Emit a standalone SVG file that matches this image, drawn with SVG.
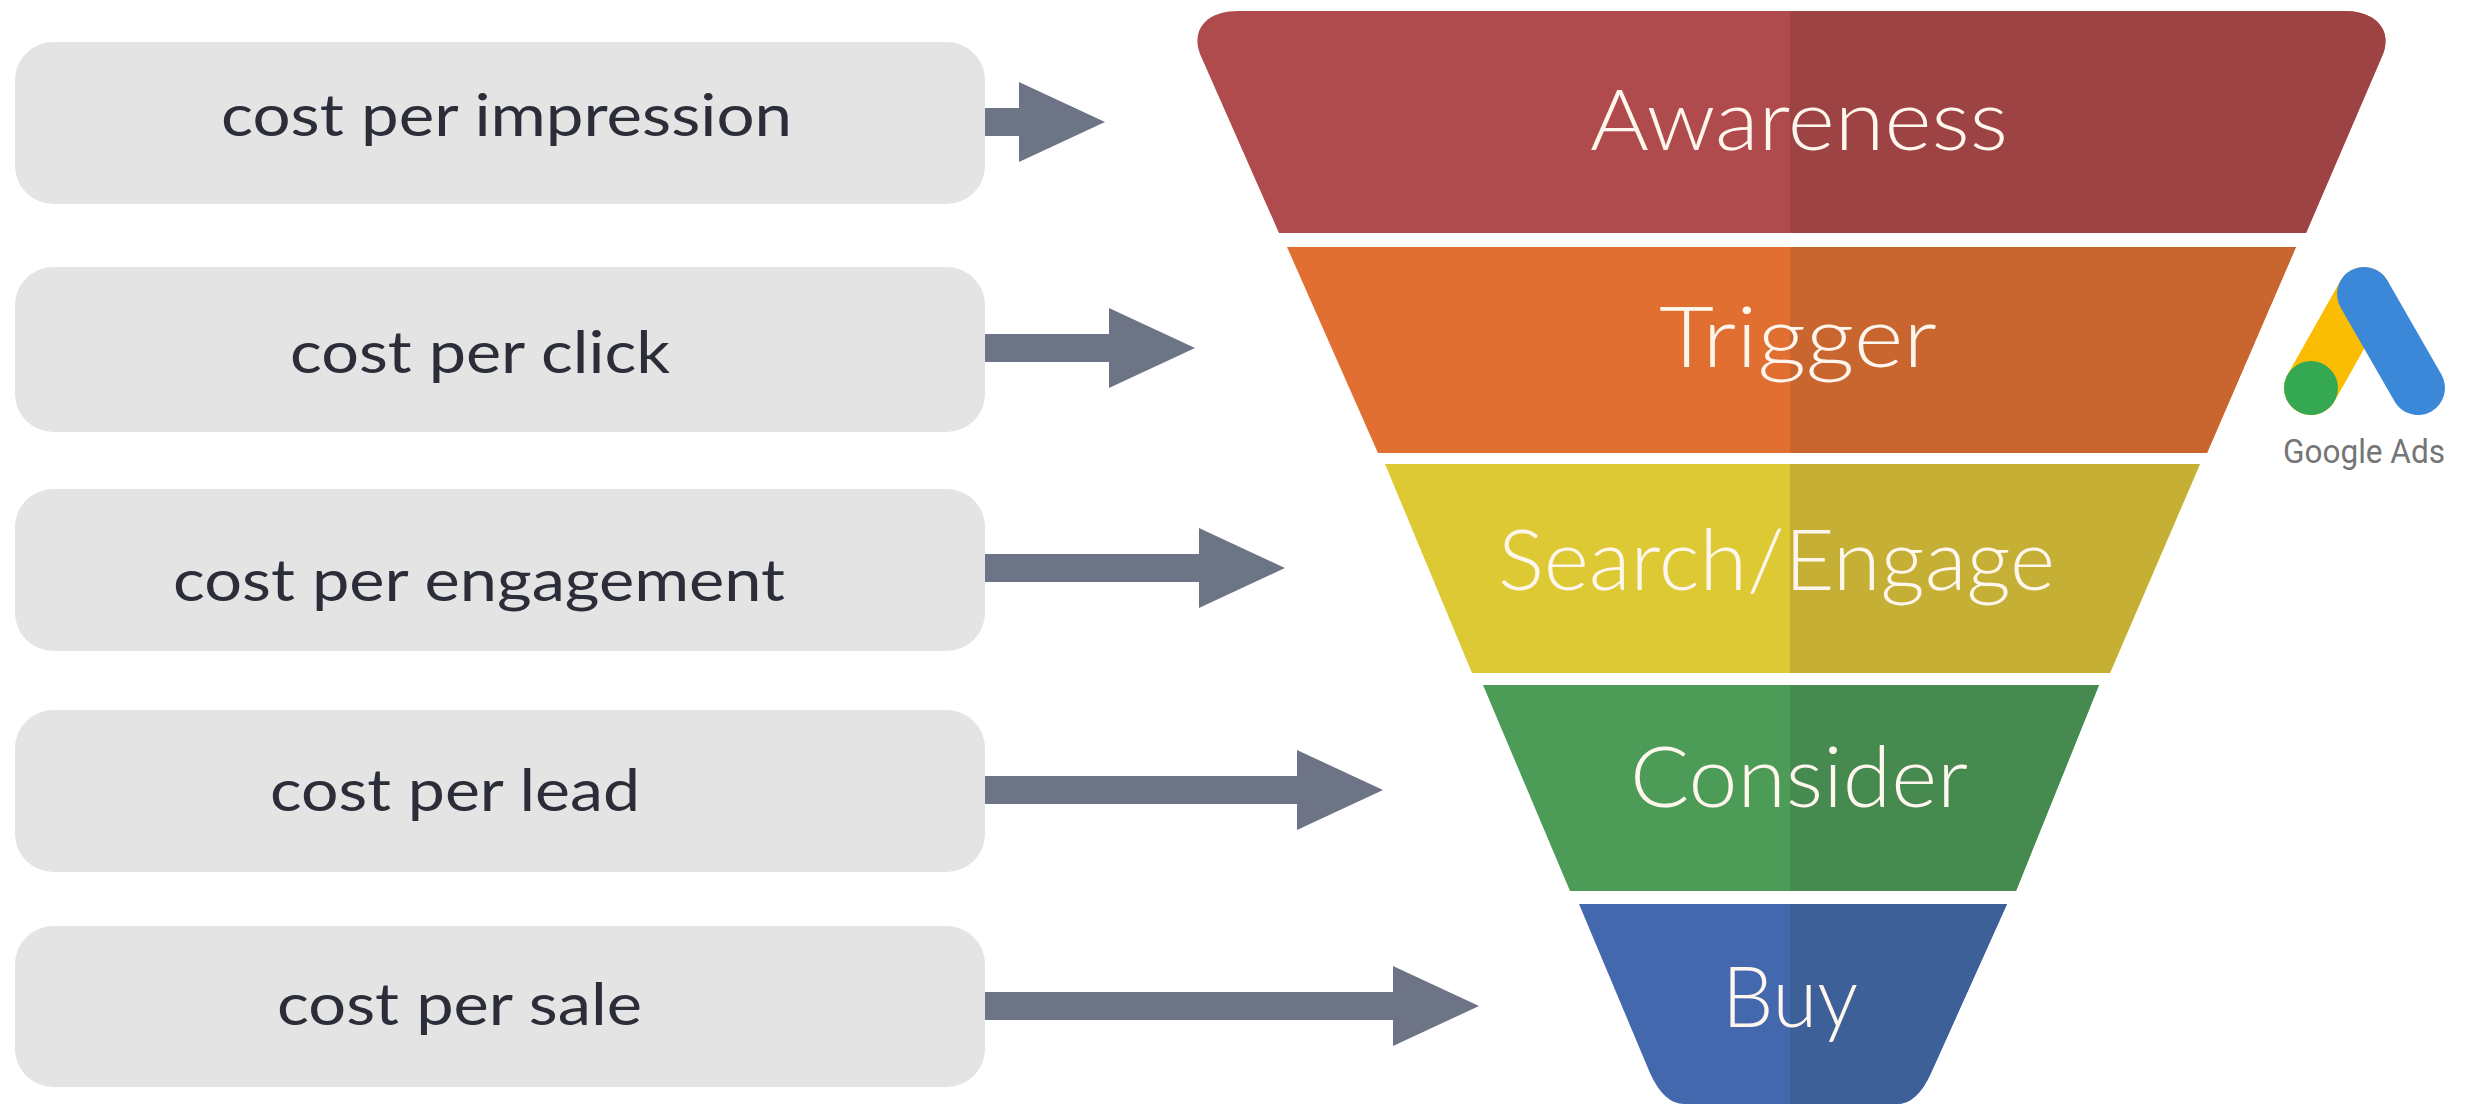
<svg xmlns="http://www.w3.org/2000/svg" width="2473" height="1104" viewBox="0 0 2473 1104">
<style>
.box{fill:#e4e4e4}
.bt{font-family:"Lato","Liberation Sans",sans-serif;font-size:58px;fill:#2b2d38;text-anchor:start}
.ft{font-family:"Lato","Open Sans",sans-serif;font-weight:300;font-size:84px;fill:#fff6ee;text-anchor:start}
.conn{stroke:#6c7485;stroke-width:28;fill:none;marker-end:url(#head)}
</style>
<defs>
<marker id="head" markerUnits="userSpaceOnUse" markerWidth="86" markerHeight="80" refX="0" refY="40" orient="auto" viewBox="0 0 86 80"><path d="M0 0L86 40L0 80Z" fill="#6c7485"/></marker>
<clipPath id="rh"><rect x="1790" y="0" width="683" height="1104"/></clipPath>
<path id="p1" d="M1238 11H2344C2376 11 2392 30 2383 54L2306 233H1279L1200 54C1191 30 1206 11 1238 11Z"/>
<path id="p2" d="M1287 247H2296L2207 453H1378Z"/>
<path id="p3" d="M1385 464H2200L2110 673H1472Z"/>
<path id="p4" d="M1483 685H2099L2016 891H1570Z"/>
<path id="p5" d="M1579 904H2007L1931 1073Q1917 1104 1897 1104H1684Q1664 1104 1650 1073Z"/>
</defs>
<rect width="2473" height="1104" fill="#fff"/>
<g id="connectors">
<line class="conn" x1="985" y1="122" x2="1019" y2="122"/>
<line class="conn" x1="985" y1="348" x2="1109" y2="348"/>
<line class="conn" x1="985" y1="568" x2="1199" y2="568"/>
<line class="conn" x1="985" y1="790" x2="1297" y2="790"/>
<line class="conn" x1="985" y1="1006" x2="1393" y2="1006"/>
</g>
<g id="node-impression"><rect class="box" x="15" y="42" width="970" height="162" rx="38"/><text class="bt" x="221" y="136" textLength="571" lengthAdjust="spacingAndGlyphs">cost per impression</text></g>
<g id="node-click"><rect class="box" x="15" y="267" width="970" height="165" rx="38"/><text class="bt" x="290" y="373" textLength="380" lengthAdjust="spacingAndGlyphs">cost per click</text></g>
<g id="node-engagement"><rect class="box" x="15" y="489" width="970" height="162" rx="38"/><text class="bt" x="173" y="601" textLength="612" lengthAdjust="spacingAndGlyphs">cost per engagement</text></g>
<g id="node-lead"><rect class="box" x="15" y="710" width="970" height="162" rx="38"/><text class="bt" x="270" y="811" textLength="370" lengthAdjust="spacingAndGlyphs">cost per lead</text></g>
<g id="node-sale"><rect class="box" x="15" y="926" width="970" height="161" rx="38"/><text class="bt" x="277" y="1025" textLength="365" lengthAdjust="spacingAndGlyphs">cost per sale</text></g>
<g id="tier-awareness"><use href="#p1" fill="#af4b4c"/><use href="#p1" fill="#9e4343" clip-path="url(#rh)"/><text class="ft" x="1590" y="150" textLength="418" lengthAdjust="spacingAndGlyphs">Awareness</text></g>
<g id="tier-trigger"><use href="#p2" fill="#e06f31"/><use href="#p2" fill="#c9652e" clip-path="url(#rh)"/><text class="ft" x="1659" y="367" textLength="278" lengthAdjust="spacingAndGlyphs">Trigger</text></g>
<g id="tier-search"><use href="#p3" fill="#ddc934"/><use href="#p3" fill="#c5b035" clip-path="url(#rh)"/><text class="ft" x="1498" y="590" textLength="557" lengthAdjust="spacingAndGlyphs">Search/Engage</text></g>
<g id="tier-consider"><use href="#p4" fill="#4c9b57"/><use href="#p4" fill="#468a50" clip-path="url(#rh)"/><text class="ft" x="1630" y="807" textLength="338" lengthAdjust="spacingAndGlyphs">Consider</text></g>
<g id="tier-buy"><use href="#p5" fill="#4368ae"/><use href="#p5" fill="#3e6098" clip-path="url(#rh)"/><text class="ft" x="1722" y="1027" textLength="136" lengthAdjust="spacingAndGlyphs">Buy</text></g>
<g id="google-ads">
<line x1="2311" y1="388" x2="2364" y2="294" stroke="#fbbc04" stroke-width="54" stroke-linecap="round"/>
<line x1="2364" y1="294" x2="2418" y2="388" stroke="#3b88d9" stroke-width="54" stroke-linecap="round"/>
<circle cx="2311" cy="388" r="27" fill="#34a853"/>
<text x="2283" y="463" font-family="Roboto,'Open Sans',sans-serif" font-size="33" fill="#757575" textLength="162" lengthAdjust="spacingAndGlyphs">Google Ads</text>
</g>
</svg>
